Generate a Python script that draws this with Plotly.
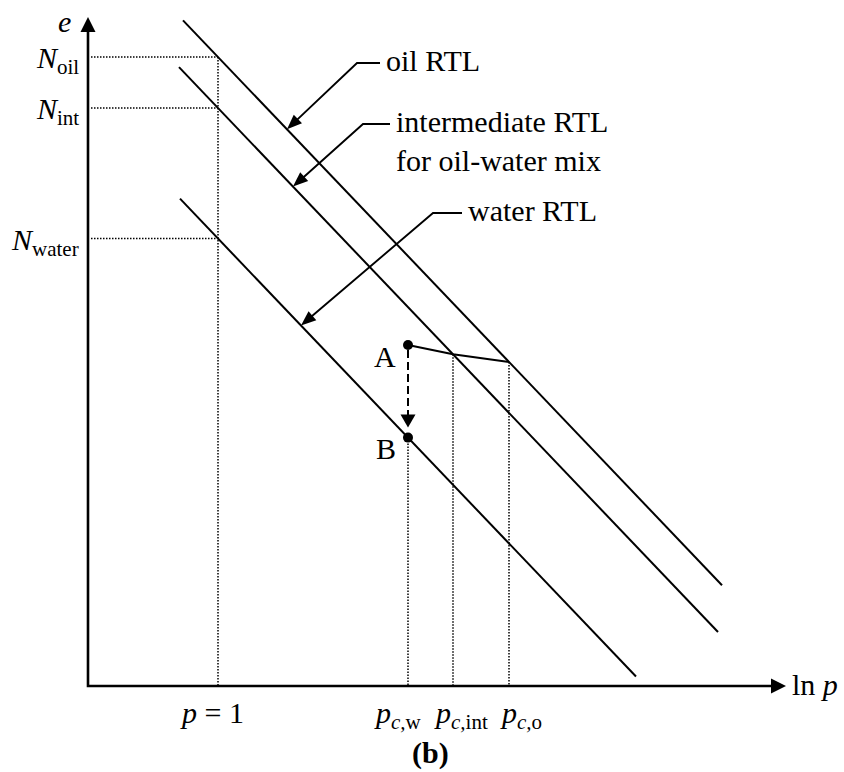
import math
import plotly.graph_objects as go

# ---------------- data (schematic units: x = ln p, y = e) ----------------
rtl_names = ["oil", "intermediate", "water"]
rtl_N = [6.29, 5.78, 4.475]            # e at p = 1 (ln p = 0)
rtl_slope = 1.048                      # common RTL slope (lambda)
rtl_lnp_start = [-0.35, -0.39, -0.38]
rtl_lnp_end = [5.04, 5.00, 4.18]
N_labels = ["<i>N</i><sub>oil</sub>", "<i>N</i><sub>int</sub>", "<i>N</i><sub>water</sub>"]

crit_lnp = [1.90, 2.35, 2.91]          # ln p_c,w , ln p_c,int , ln p_c,o
crit_rtl = [2, 1, 0]                   # which RTL each p_c sits on
crit_labels = ["<i>p</i><sub><i>c,</i>w</sub>",
               "<i>p</i><sub><i>c,</i>int</sub>",
               "<i>p</i><sub><i>c,</i>o</sub>"]
crit_label_shift = [-10, 8, 12]

point_A_e = 3.41
p1_lnp = 0.0
p1_label = "<i>p</i> = 1"

leader_texts = ["oil RTL", "intermediate RTL<br>for oil-water mix", "water RTL"]
leader_tip_lnp = [0.69, 0.75, 0.83]
leader_bend = [(1.39, 6.23), (1.45, 5.62), (2.15, 4.73)]
leader_end_lnp = [1.62, 1.72, 2.44]

axis_lnp_min, axis_lnp_max, axis_e_max = -1.30, 5.68, 6.69

FONT = "Liberation Serif"
FS = 30
X_RANGE = [-2.18, 6.26]
Y_RANGE = [-0.86, 6.86]
W, H = 844, 772
PX = (X_RANGE[1] - X_RANGE[0]) / W     # data units per pixel (x); same for y by construction
PY = (Y_RANGE[1] - Y_RANGE[0]) / H


def rtl_e(i, lnp):
    return rtl_N[i] - rtl_slope * lnp


BLACK = "black"
DOT = dict(color=BLACK, width=1.5, dash="1.5px,1.5px")
fig = go.Figure()
shapes = []


def head(tail, tip, length_px, width_px):
    """filled triangular arrowhead at tip; returns point at head base."""
    dxp = (tip[0] - tail[0]) / PX
    dyp = (tip[1] - tail[1]) / PY
    d = math.hypot(dxp, dyp)
    ux, uy = dxp / d, dyp / d
    nx, ny = -uy, ux
    bx = tip[0] / PX - ux * length_px
    by = tip[1] / PY - uy * length_px
    p1 = ((bx + nx * width_px / 2) * PX, (by + ny * width_px / 2) * PY)
    p2 = ((bx - nx * width_px / 2) * PX, (by - ny * width_px / 2) * PY)
    shapes.append(dict(type="path", xref="x", yref="y", fillcolor=BLACK, line=dict(width=0),
                       path=f"M {tip[0]},{tip[1]} L {p1[0]},{p1[1]} L {p2[0]},{p2[1]} Z"))
    return ((bx + ux * 2) * PX, (by + uy * 2) * PY)


# dotted reference lines
for i in range(3):
    fig.add_trace(go.Scatter(x=[axis_lnp_min + 0.03, p1_lnp], y=[rtl_N[i], rtl_N[i]],
                             mode="lines", line=DOT, hoverinfo="skip"))
fig.add_trace(go.Scatter(x=[p1_lnp, p1_lnp], y=[max(rtl_N), 0], mode="lines",
                         line=DOT, hoverinfo="skip"))
for lnp, ri in zip(crit_lnp, crit_rtl):
    fig.add_trace(go.Scatter(x=[lnp, lnp], y=[rtl_e(ri, lnp), 0], mode="lines",
                             line=DOT, hoverinfo="skip"))

# RTL lines
for i in range(3):
    xs = [rtl_lnp_start[i], rtl_lnp_end[i]]
    fig.add_trace(go.Scatter(x=xs, y=[rtl_e(i, v) for v in xs], mode="lines",
                             line=dict(color=BLACK, width=2), name=rtl_names[i], hoverinfo="skip"))

# A -> critical states path
path_x = [crit_lnp[0], crit_lnp[1], crit_lnp[2]]
path_y = [point_A_e, rtl_e(crit_rtl[1], crit_lnp[1]), rtl_e(crit_rtl[2], crit_lnp[2])]
fig.add_trace(go.Scatter(x=path_x, y=path_y, mode="lines", line=dict(color=BLACK, width=2),
                         hoverinfo="skip"))

# dashed A -> B
B_e = rtl_e(crit_rtl[0], crit_lnp[0])
tip = (crit_lnp[0], B_e + 0.10)
base = head((crit_lnp[0], point_A_e), tip, 13, 15)
fig.add_trace(go.Scatter(x=[crit_lnp[0], crit_lnp[0]], y=[point_A_e - 0.05, base[1]], mode="lines",
                         line=dict(color=BLACK, width=2, dash="8px,4px"), hoverinfo="skip"))

# points A, B
fig.add_trace(go.Scatter(x=[crit_lnp[0], crit_lnp[0]], y=[point_A_e, B_e], mode="markers",
                         marker=dict(color=BLACK, size=10), hoverinfo="skip"))
for lab, e in zip(["A", "B"], [point_A_e, B_e]):
    fig.add_annotation(x=crit_lnp[0], y=e, text=lab, showarrow=False, xanchor="right",
                       yanchor="middle", xshift=-10, yshift=-11,
                       font=dict(family=FONT, size=FS, color=BLACK))

# leaders
for k in range(3):
    bx, be = leader_bend[k]
    t = (leader_tip_lnp[k], rtl_e(k, leader_tip_lnp[k]))
    base = head((bx, be), t, 15, 12)
    fig.add_trace(go.Scatter(x=[leader_end_lnp[k], bx, base[0]], y=[be, be, base[1]], mode="lines",
                             line=dict(color=BLACK, width=1.9), hoverinfo="skip"))
    fig.add_annotation(x=leader_end_lnp[k], y=be, text=leader_texts[k], showarrow=False,
                       xanchor="left", yanchor="top", xshift=4, yshift=21, align="left",
                       font=dict(family=FONT, size=FS, color=BLACK))

# axes with arrows
ytop = head((axis_lnp_min, 0), (axis_lnp_min, axis_e_max), 15, 15)
xend = head((axis_lnp_min, 0), (axis_lnp_max, 0), 15, 15)
fig.add_trace(go.Scatter(x=[axis_lnp_min, axis_lnp_min, xend[0]], y=[ytop[1], 0, 0], mode="lines",
                         line=dict(color=BLACK, width=2.6), hoverinfo="skip"))

# axis labels
fig.add_annotation(x=axis_lnp_min, y=axis_e_max, text="<i>e</i>", showarrow=False,
                   xanchor="right", yanchor="middle", xshift=-15, yshift=-4,
                   font=dict(family=FONT, size=FS, color=BLACK))
fig.add_annotation(x=axis_lnp_max, y=0, text="ln <i>p</i>", showarrow=False,
                   xanchor="left", yanchor="middle", xshift=4, yshift=2,
                   font=dict(family=FONT, size=FS, color=BLACK))

# N labels
for i in range(3):
    fig.add_annotation(x=axis_lnp_min, y=rtl_N[i], text=N_labels[i], showarrow=False,
                       xanchor="right", yanchor="middle", xshift=-7, yshift=-3,
                       font=dict(family=FONT, size=FS, color=BLACK))

# tick labels on ln p axis
fig.add_annotation(x=p1_lnp, y=0, text=p1_label, showarrow=False, xanchor="center",
                   yanchor="top", xshift=-6, yshift=-8,
                   font=dict(family=FONT, size=FS, color=BLACK))
for lnp, lab, sh in zip(crit_lnp, crit_labels, crit_label_shift):
    fig.add_annotation(x=lnp, y=0, text=lab, showarrow=False, xanchor="center",
                       yanchor="top", xshift=sh, yshift=-8,
                       font=dict(family=FONT, size=FS, color=BLACK))

# caption
fig.add_annotation(x=0.51, y=0.0, xref="paper", yref="paper", text="<b>(b)</b>",
                   showarrow=False, xanchor="center", yanchor="bottom", yshift=0,
                   font=dict(family=FONT, size=FS, color=BLACK))

fig.update_layout(
    width=W, height=H, margin=dict(l=0, r=0, t=0, b=0),
    paper_bgcolor="white", plot_bgcolor="white", showlegend=False,
    xaxis=dict(range=X_RANGE, visible=False, fixedrange=True),
    yaxis=dict(range=Y_RANGE, visible=False, fixedrange=True),
    shapes=shapes,
)

fig.write_html("out.html", config={"displayModeBar": False})
